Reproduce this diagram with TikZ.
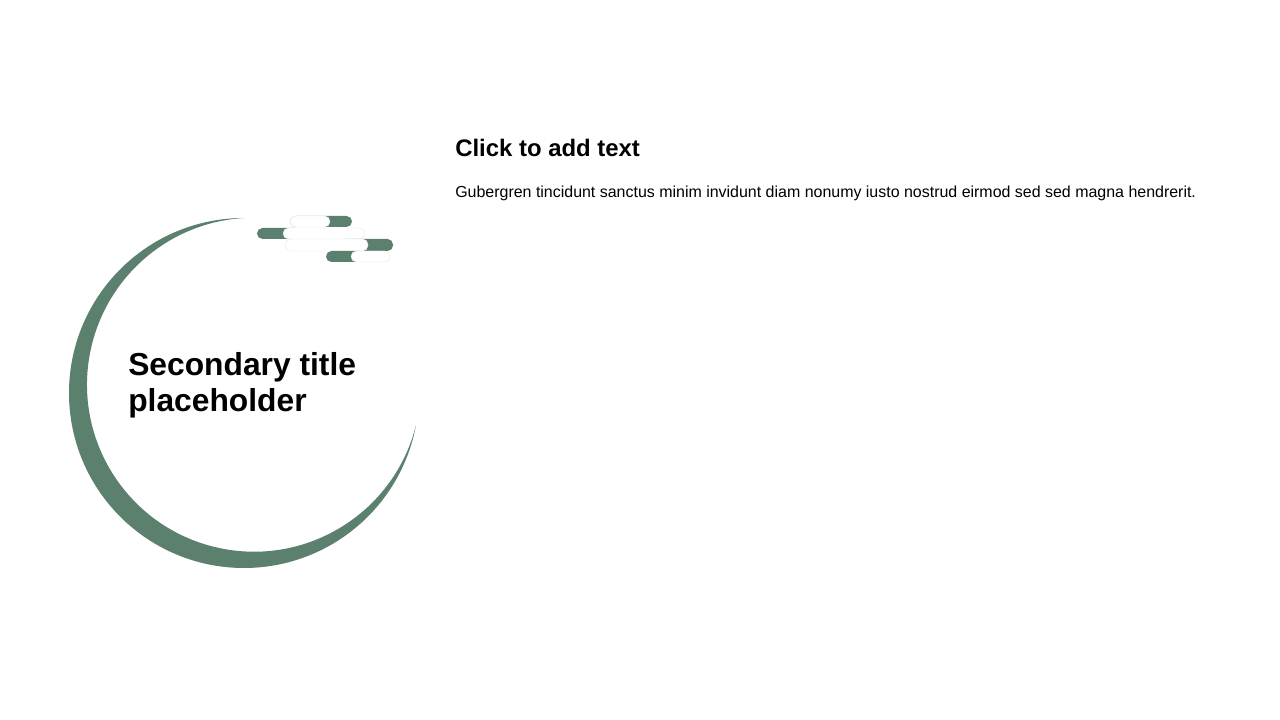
\documentclass[tikz,border=0pt]{standalone}
\usepackage{fontspec}
\setmainfont{Liberation Sans}
\usepackage{xcolor}
\usetikzlibrary{calc,positioning}
\definecolor{sage}{RGB}{91,128,109}

\begin{document}
\begin{tikzpicture}[x=0.025cm,y=0.025cm,
  greenpill/.style={fill=sage,rounded corners=0.137cm},
  whitepill/.style={fill=white,draw=black!9,line width=0.3pt,rounded corners=0.137cm},
  heading/.style={anchor=base west,inner sep=0pt,font=\fontsize{17}{20}\selectfont\bfseries},
  bodytext/.style={anchor=base west,inner sep=0pt,font=\fontsize{11.35}{14}\selectfont}]
\useasboundingbox (0,0) rectangle (1280,720);
% crescent
\fill [sage] (244,327) ++(90:175) arc[start angle=90,end angle=349,radius=175]
  -- ($(254,335.3)+(345.7:167)$) arc[start angle=345.7,end angle=93.4,radius=167] -- cycle;
% pills
\fill [greenpill] (290,493) rectangle (352,504);
\draw [whitepill] (290,493) rectangle (330,504);
\fill [greenpill] (257,481) rectangle (300,492);
\draw [whitepill] (283,481) rectangle (365,492);
\fill [greenpill] (340,469) rectangle (393,481);
\draw [whitepill] (285,469) rectangle (368,481);
\fill [greenpill] (326,458) rectangle (365,469);
\draw [whitepill] (351,458) rectangle (390,469);
% texts
\node [anchor=base west,inner sep=0pt,align=left,font=\fontsize{22.6}{25.4}\selectfont\bfseries] (subtitle) at (128,308.3) {Secondary title\\placeholder};
\node [heading] (clicktext) at (455,563.5) {Click to add text};
\node [bodytext] (bodyline) at (455,522.5) {Gubergren tincidunt sanctus minim invidunt diam nonumy iusto nostrud eirmod sed sed magna hendrerit.};
\end{tikzpicture}
\end{document}
